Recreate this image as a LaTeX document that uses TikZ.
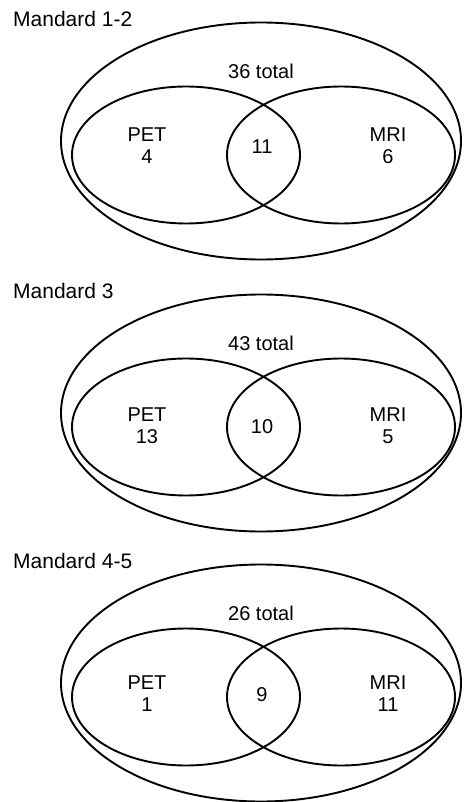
\documentclass[tikz,border=0pt]{standalone}
\usepackage{fontspec}
\setmainfont{Liberation Sans}
\usetikzlibrary{shapes.geometric}

\begin{document}
\begin{tikzpicture}[
        x=1pt, y=-1pt,
        setring/.style={draw, ellipse, line width=1.9pt, inner sep=0pt},
        outerset/.style={setring, minimum width=400pt, minimum height=237pt},
        innerset/.style={setring, minimum width=228pt, minimum height=137pt},
        countlabel/.style={font=\fontsize{20}{22}\selectfont, align=center, inner sep=0pt},
        titletext/.style={font=\fontsize{21}{24}\selectfont, inner sep=0pt, anchor=west},
        ]
    \useasboundingbox (0,0) rectangle (463,802);
    \foreach \ttl/\tot/\pet/\both/\mri/\off/\dy [count=\i] in {
            Mandard 1-2/36/4/11/6/0/-8,
            Mandard 3/43/13/10/5/272/0,
            Mandard 4-5/26/1/9/11/542/-2} {
        \node (outer\i) [outerset] at (261,141+\off) {};
        \node (petset\i) [innerset] at (186,155+\off) {};
        \node (mriset\i) [innerset] at (341,155+\off) {};
        \node (title\i) [titletext] at (13,19+\off) {\ttl};
        \node (total\i) [countlabel] at (261,71+\off) {\tot{} total};
        \node (pet\i) [countlabel] at (147,154+\dy+\off) {PET\\\pet};
        \node (both\i) [countlabel] at (262,155+\dy+\off) {\both};
        \node (mri\i) [countlabel] at (388,154+\dy+\off) {MRI\\\mri};
    } % end of panels
\end{tikzpicture}
\end{document}
